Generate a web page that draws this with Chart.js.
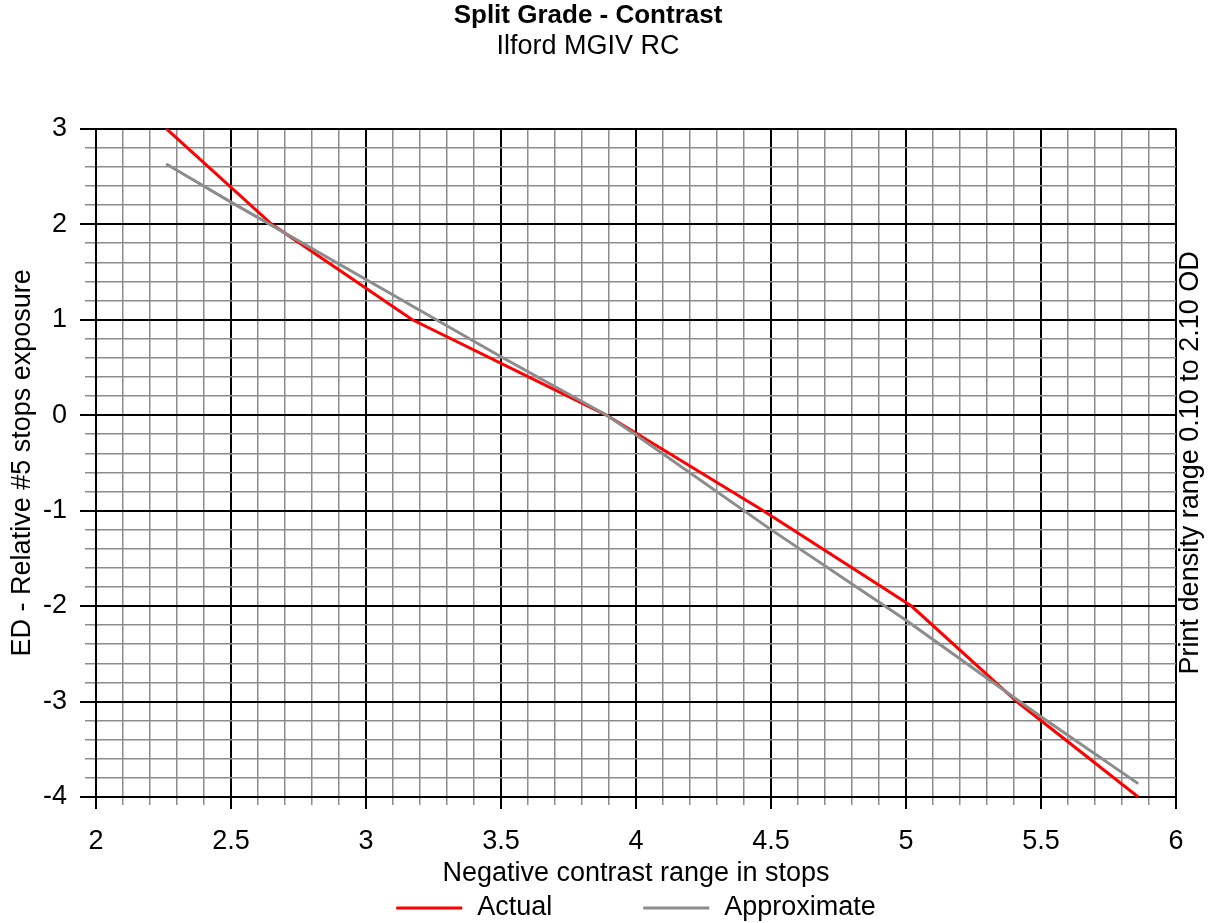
<!DOCTYPE html>
<html>
<head>
<meta charset="utf-8">
<title>Split Grade - Contrast</title>
<script src="https://cdn.jsdelivr.net/npm/chart.js@4.4.1/dist/chart.umd.min.js"></script>
<style>
  html, body { margin: 0; padding: 0; background: #fff; }
  #wrap { width: 1212px; height: 923px; }
</style>
</head>
<body>
<div id="wrap"><canvas id="chart"></canvas></div>
<script>
// Values
const actualX = [2.26, 2.65, 3.17, 3.89, 4.47, 5.02, 5.41, 5.86];
const actualY = [3, 2, 1, 0, -1, -2, -3, -4];
const approxX = [2.26, 2.5, 3.0, 3.5, 3.89, 4.0, 4.5, 5.0, 5.5, 5.86];
const approxY = [2.63, 2.23, 1.42, 0.61, 0.0, -0.21, -1.2, -2.15, -3.16, -3.86];
const seriesNames = ['Actual', 'Approximate'];
const seriesColors = ['#ff0000', '#8c8c8c'];

const chartTitle = 'Split Grade - Contrast';
const chartSubtitle = 'Ilford MGIV RC';
const xTitle = 'Negative contrast range in stops';
const yTitle = 'ED - Relative #5 stops exposure';
const y2Title = 'Print density range 0.10 to 2.10 OD';

const FONT = 'Arial, "Liberation Sans", sans-serif';
const FONT_SIZE = 27;
const gridGray = '#8c8c8c';

Chart.defaults.font.family = FONT;
Chart.defaults.font.size = FONT_SIZE;
Chart.defaults.color = '#000';

const isMajor = (v, step) => Math.abs(v / step - Math.round(v / step)) < 1e-6;
const toPoints = (xs, ys) => xs.map((x, i) => ({ x, y: ys[i] }));

// Right-hand caption (reads bottom to top) and the wide-spaced legend
const extras = {
    id: 'extras',
    afterDraw(chart) {
        const { ctx, chartArea } = chart;
        ctx.save();
        ctx.font = FONT_SIZE + 'px ' + FONT;
        ctx.fillStyle = '#000';
        ctx.textAlign = 'center';
        ctx.textBaseline = 'middle';
        ctx.translate(chartArea.right + 15, (chartArea.top + chartArea.bottom) / 2);
        ctx.rotate(-Math.PI / 2);
        ctx.fillText(y2Title, 0, 0);
        ctx.restore();

        // legend
        const lineLen = 66, textGap = 15, itemGap = 91;
        const y = chart.height - 15;
        ctx.save();
        ctx.font = FONT_SIZE + 'px ' + FONT;
        ctx.textBaseline = 'middle';
        ctx.textAlign = 'left';
        const ds = chart.data.datasets;
        let total = 0;
        ds.forEach((d, i) => {
            total += lineLen + textGap + ctx.measureText(d.label).width + (i < ds.length - 1 ? itemGap : 0);
        });
        let x = (chartArea.left + chartArea.right) / 2 - total / 2;
        ds.forEach(d => {
            ctx.strokeStyle = d.borderColor;
            ctx.lineWidth = d.borderWidth;
            ctx.beginPath();
            ctx.moveTo(x, y);
            ctx.lineTo(x + lineLen, y);
            ctx.stroke();
            x += lineLen + textGap;
            ctx.fillStyle = '#000';
            ctx.fillText(d.label, x, y);
            x += ctx.measureText(d.label).width + itemGap;
        });
        ctx.restore();
    }
};

new Chart(document.getElementById('chart'), {
    type: 'line',
    data: {
        datasets: [
            { label: seriesNames[0], data: toPoints(actualX, actualY), borderColor: seriesColors[0], backgroundColor: seriesColors[0], borderWidth: 3, pointRadius: 0, tension: 0, order: 1 },
            { label: seriesNames[1], data: toPoints(approxX, approxY), borderColor: seriesColors[1], backgroundColor: seriesColors[1], borderWidth: 3, pointRadius: 0, tension: 0, order: 0 }
        ]
    },
    options: {
        responsive: true,
        maintainAspectRatio: false,
        animation: false,
        layout: { padding: { left: 0, right: 36, top: 0, bottom: 33 } },
        plugins: {
            legend: { display: false },
            tooltip: { enabled: false },
            title: { display: true, text: chartTitle, font: { size: 26, weight: 'bold' }, padding: { top: 0, bottom: 0 } },
            subtitle: { display: true, text: chartSubtitle, padding: { top: -1, bottom: 66 } }
        },
        scales: {
            x: {
                type: 'linear',
                min: 2, max: 6,
                afterFit: s => { s.height = 93; },
                ticks: {
                    stepSize: 0.1, autoSkip: false, maxRotation: 0, padding: 16,
                    callback: v => isMajor(v, 0.5) ? String(Math.round(v * 10) / 10) : ''
                },
                grid: {
                    color: c => (c.tick && isMajor(c.tick.value, 0.5)) ? '#000' : gridGray,
                    lineWidth: c => (c.tick && isMajor(c.tick.value, 0.5)) ? 2 : 1.5,
                    tickLength: 12,
                    tickBorderDash: c => (c.tick && isMajor(c.tick.value, 0.5)) ? [] : [7, 100]
                },
                border: { display: true, color: '#000', width: 2 },
                title: { display: true, text: xTitle, padding: { top: 2, bottom: 0 } }
            },
            y: {
                min: -4, max: 3,
                afterFit: s => { s.width = 96; },
                ticks: {
                    stepSize: 0.2, autoSkip: false, padding: 13,
                    callback: v => isMajor(v, 1) ? String(Math.round(v)) : ''
                },
                grid: {
                    color: c => (c.tick && isMajor(c.tick.value, 1)) ? '#000' : gridGray,
                    lineWidth: c => (c.tick && isMajor(c.tick.value, 1)) ? 2 : 1.5,
                    tickLength: 16,
                    tickBorderDash: c => (c.tick && isMajor(c.tick.value, 1)) ? [] : [0, 5, 11, 100]
                },
                border: { display: true, color: '#000', width: 2 },
                title: { display: true, text: yTitle, padding: { top: 6, bottom: 7 } }
            }
        }
    },
    plugins: [extras]
});
</script>
</body>
</html>
